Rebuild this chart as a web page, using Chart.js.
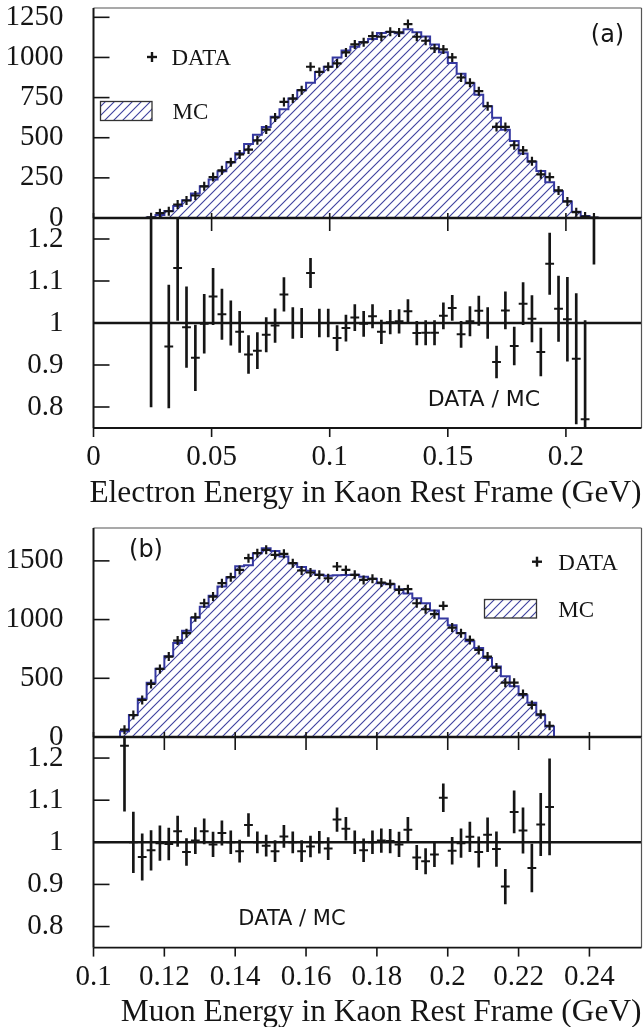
<!DOCTYPE html>
<html>
<head>
<meta charset="utf-8">
<script src="https://cdn.jsdelivr.net/npm/chart.js@4.4.1/dist/chart.umd.min.js"></script>
<style>
  body { margin: 0; background: #fff; width: 643px; height: 1027px; position: relative; overflow: hidden; }
  canvas { position: absolute; left: 0; }
</style>
</head>
<body>
<canvas id="histA" width="643" height="240" style="top:0px"></canvas>
<canvas id="ratioA" width="643" height="300" style="top:210px"></canvas>
<canvas id="histB" width="643" height="260" style="top:500px"></canvas>
<canvas id="ratioB" width="643" height="298" style="top:729px"></canvas>
<script>
// ---- panel (a): electron energy ----
const binStartA = 0.0225, binWidthA = 0.00375;
const dataA = [4, 30, 42, 84, 109, 140, 197, 255, 297, 348, 396, 426, 484, 551, 626, 723, 744, 796, 942, 910,
  942, 963, 1031, 1081, 1094, 1133, 1129, 1160, 1156, 1208, 1129, 1104, 1056, 1050, 1000, 875, 842, 790, 696, 567,
  567, 453, 421, 353, 272, 255, 172, 103, 36, 9, 3];
const mcA = [3, 18, 44, 74, 110, 153, 197, 240, 291, 348, 404, 461, 518, 567, 630, 677, 744, 796, 842, 910,
  942, 999, 1043, 1067, 1096, 1115, 1153, 1158, 1151, 1175, 1157, 1130, 1081, 1032, 965, 899, 839, 768, 696, 625,
  550, 479, 402, 350, 292, 223, 166, 102, 39, 12, 2];
const ratioA = [1.5, null, 0.944, 1.131, 0.99, 0.917, 0.998, 1.063, 1.021, 1.0, 0.979, 0.925, 0.934, 0.972, 0.994, 1.068, 1.0, 1.0, 1.119, 1.0,
  1.0, 0.964, 0.988, 1.013, 0.998, 1.016, 0.979, 1.002, 1.004, 1.028, 0.976, 0.977, 0.977, 1.017, 1.036, 0.973, 1.004, 1.029, 1.0, 0.907,
  1.03, 0.945, 1.046, 1.01, 0.931, 1.141, 1.034, 1.009, 0.915, 0.771, 1.5];
const ratioErrA = [0.7, null, 0.146, 0.125, 0.096, 0.078, 0.07, 0.067, 0.06, 0.053, 0.049, 0.045, 0.043, 0.041, 0.04, 0.04, 0.037, 0.035, 0.035, 0.033,
  0.033, 0.03, 0.031, 0.031, 0.03, 0.028, 0.028, 0.028, 0.028, 0.028, 0.028, 0.029, 0.029, 0.031, 0.03, 0.031, 0.035, 0.035, 0.037, 0.038,
  0.044, 0.045, 0.05, 0.055, 0.057, 0.073, 0.078, 0.1, 0.155, 0.235, 0.36];
const xRangeA = [0, 0.232];
const xTicksA = [0, 0.05, 0.1, 0.15, 0.2];
const yMaxHistA = 1308;
const yTicksHistA = [0, 250, 500, 750, 1000, 1250];

// ---- panel (b): muon energy ----
const binStartB = 0.1075, binWidthB = 0.0025;
const dataB = [62, 187, 315, 452, 580, 685, 821, 884, 1020, 1139, 1196, 1310, 1361, 1423, 1523, 1566, 1594, 1551, 1560, 1480,
  1418, 1401, 1381, 1352, 1452, 1423, 1381, 1338, 1347, 1315, 1304, 1253, 1259, 1139, 1088, 1046, 1117, 932, 884, 827,
  742, 685, 591, 463, 463, 366, 273, 193, 96];
const mcB = [50, 187, 326, 461, 581, 688, 800, 905, 1016, 1110, 1202, 1282, 1361, 1454, 1463, 1566, 1607, 1584, 1538, 1480,
  1448, 1415, 1381, 1373, 1378, 1379, 1381, 1364, 1347, 1310, 1300, 1259, 1222, 1182, 1139, 1077, 1010, 951, 886, 816,
  759, 673, 601, 517, 432, 356, 291, 185, 89];
const ratioB = [1.229, 1.0, 0.965, 0.981, 0.998, 0.996, 1.026, 0.977, 1.004, 1.026, 0.995, 1.022, 1.0, 0.979, 1.041, 1.0, 0.992, 0.979, 1.014, 1.0,
  0.979, 0.99, 1.0, 0.985, 1.054, 1.032, 1.0, 0.981, 1.0, 1.004, 1.003, 0.995, 1.03, 0.964, 0.955, 0.971, 1.106, 0.98, 0.998, 1.013,
  0.977, 1.018, 0.984, 0.895, 1.072, 1.028, 0.939, 1.042, 1.084];
const ratioErrB = [0.155, 0.072, 0.055, 0.047, 0.041, 0.038, 0.036, 0.032, 0.031, 0.03, 0.029, 0.029, 0.027, 0.026, 0.027, 0.025, 0.025, 0.025, 0.026, 0.025,
  0.025, 0.025, 0.026, 0.026, 0.028, 0.027, 0.027, 0.027, 0.027, 0.028, 0.028, 0.029, 0.029, 0.029, 0.03, 0.029, 0.033, 0.032, 0.034, 0.035,
  0.036, 0.04, 0.041, 0.041, 0.05, 0.054, 0.057, 0.074, 0.114];
const xRangeB = [0.1, 0.2547];
const xTicksB = [0.1, 0.12, 0.14, 0.16, 0.18, 0.2, 0.22, 0.24];
const yMaxHistB = 1780;
const yTicksHistB = [0, 500, 1000, 1500];

const ratioRange = [0.75, 1.25];
const yTicksRatio = [0.8, 0.9, 1, 1.1, 1.2];

const INK = '#151515';
const HATCH = '#3b3e9c';
const SERIF = 'Liberation Serif';
const SANS = 'DejaVu Sans';

function binEdges(start, width, n) {
  return Array.from({ length: n + 1 }, (_, i) => start + i * width);
}
function binCenters(edges) {
  return edges.slice(0, -1).map((e, i) => (e + edges[i + 1]) / 2);
}
function stepPoints(edges, vals) {
  const pts = [{ x: edges[0], y: 0 }];
  vals.forEach((v, i) => pts.push({ x: edges[i], y: v }));
  pts.push({ x: edges[vals.length], y: 0 });
  return pts;
}
function hatchPattern(ctx) {
  const c = document.createElement('canvas');
  c.width = 9; c.height = 9;
  const g = c.getContext('2d');
  g.strokeStyle = HATCH;
  g.lineWidth = 1.1;
  [[-1, 10, 10, -1], [8, 10, 10, 8], [-1, 1, 1, -1]].forEach(([a, b, p, q]) => {
    g.beginPath(); g.moveTo(a, b); g.lineTo(p, q); g.stroke();
  });
  return ctx.createPattern(c, 'repeat');
}

// frame, inward ticks, legend and labels
const framePlugin = {
  id: 'frame',
  afterDraw(chart, args, o) {
    const { ctx, chartArea: a, scales: { x, y } } = chart;
    const line = (x1, y1, x2, y2) => { ctx.beginPath(); ctx.moveTo(x1, y1); ctx.lineTo(x2, y2); ctx.stroke(); };
    ctx.save();
    ctx.strokeStyle = INK;
    ctx.lineWidth = 1.6;
    o.yTicks.forEach(v => {
      const py = y.getPixelForValue(v);
      if (py > a.top + 1 && py < a.bottom - 1) line(a.left, py, a.left + 16, py);
    });
    o.xTicks.forEach(v => {
      const px = x.getPixelForValue(v);
      if (o.tickTop && px > a.left + 1) line(px, a.top, px, a.top + o.tickTop);
      if (o.tickBottom) line(px, a.bottom, px, a.bottom + o.tickBottom);
    });
    // thin grey top / right
    ctx.strokeStyle = '#555';
    ctx.lineWidth = 1.2;
    if (o.topLine) line(a.left, a.top, a.right, a.top);
    line(a.right, a.top, a.right, a.bottom);
    // black left / bottom
    ctx.strokeStyle = INK;
    ctx.lineWidth = 2;
    line(a.left, a.top, a.left, a.bottom);
    ctx.lineWidth = o.bottomWidth;
    line(a.left, a.bottom, a.right, a.bottom);

    (o.crosses || []).forEach(c => {
      ctx.lineWidth = 2.4;
      line(c.x - 5, c.y, c.x + 5, c.y);
      line(c.x, c.y - 5, c.x, c.y + 5);
    });
    (o.boxes || []).forEach(b => {
      ctx.fillStyle = hatchPattern(ctx);
      ctx.fillRect(b.x, b.y, b.w, b.h);
      ctx.strokeStyle = '#333';
      ctx.lineWidth = 1.3;
      ctx.strokeRect(b.x, b.y, b.w, b.h);
    });
    ctx.fillStyle = INK;
    (o.texts || []).forEach(t => {
      ctx.font = t.font;
      ctx.textAlign = t.align || 'left';
      ctx.textBaseline = t.baseline || 'alphabetic';
      ctx.fillText(t.text, t.x, t.y);
    });
    ctx.restore();
  }
};
Chart.register(framePlugin);

function axes(o) {
  return {
    x: {
      type: 'linear', min: o.xRange[0], max: o.xRange[1], offset: false, display: o.showX,
      grid: { display: false, drawTicks: false }, border: { display: false },
      afterBuildTicks: s => { s.ticks = o.xTicks.map(v => ({ value: v })); },
      afterFit: s => { s.height = o.xHeight || 0; },
      ticks: { autoSkip: false, maxRotation: 0, padding: 12, color: INK,
        font: { family: SERIF, size: 29 }, callback: v => String(v) }
    },
    y: {
      type: 'linear', min: o.yRange[0], max: o.yRange[1],
      // tick marks are not drawn (grid hidden); tickLength only sets the label gap
      grid: { display: false, drawTicks: true, tickLength: 30 }, border: { display: false },
      afterBuildTicks: s => { s.ticks = o.yTicks.map(v => ({ value: v })); },
      afterFit: s => { s.width = 93.5; },
      ticks: { padding: 0, color: INK, font: { family: SERIF, size: 29, lineHeight: 0.4 }, callback: v => String(v) }
    }
  };
}

function histChart(id, o) {
  const ctx = document.getElementById(id).getContext('2d');
  const edges = binEdges(o.binStart, o.binWidth, o.mc.length);
  const centers = binCenters(edges);
  return new Chart(ctx, {
    type: 'line',
    data: {
      datasets: [
        {
          data: o.data.map((v, i) => ({ x: centers[i], y: v })),
          showLine: false, pointStyle: 'cross', pointRadius: 4.5,
          pointBorderWidth: 2.2, pointBorderColor: INK, order: 0
        },
        {
          data: stepPoints(edges, o.mc), stepped: 'before',
          borderColor: '#3538a0', borderWidth: 2, pointRadius: 0,
          fill: 'origin', backgroundColor: hatchPattern(ctx), order: 1
        }
      ]
    },
    options: {
      responsive: false, animation: false, devicePixelRatio: 1,
      layout: { autoPadding: false, padding: { left: 0, right: 1.5, top: o.padTop, bottom: o.padBottom } },
      plugins: { legend: { display: false }, tooltip: { enabled: false }, frame: o.frame },
      scales: axes({ xRange: o.xRange, xTicks: o.xTicks, showX: false, yRange: [0, o.yMax], yTicks: o.yTicks })
    }
  });
}

function ratioChart(id, o) {
  const ctx = document.getElementById(id).getContext('2d');
  const centers = binCenters(binEdges(o.binStart, o.binWidth, o.ratio.length));
  const bars = [], marks = [];
  o.ratio.forEach((v, i) => {
    if (v === null) return;
    bars.push({ x: centers[i], y: [v - o.err[i], v + o.err[i]] });
    marks.push({ x: centers[i], y: v });
  });
  return new Chart(ctx, {
    type: 'bar',
    data: {
      datasets: [
        { type: 'line', data: marks, showLine: false, pointStyle: 'line', pointRadius: 4.4,
          pointBorderWidth: 2, pointBorderColor: INK, order: 0 },
        { type: 'bar', data: bars, barThickness: 2, backgroundColor: INK, borderWidth: 0, order: 1 },
        { type: 'line', data: [{ x: o.xRange[0], y: 1 }, { x: o.xRange[1], y: 1 }],
          borderColor: INK, borderWidth: 2.6, pointRadius: 0, order: 2 }
      ]
    },
    options: {
      responsive: false, animation: false, devicePixelRatio: 1,
      layout: { autoPadding: false, padding: { left: 0, right: 1.5, top: o.padTop, bottom: 0 } },
      plugins: { legend: { display: false }, tooltip: { enabled: false }, frame: o.frame },
      scales: axes({ xRange: o.xRange, xTicks: o.xTicks, showX: true, xHeight: o.xHeight,
        yRange: ratioRange, yTicks: yTicksRatio })
    }
  });
}

histChart('histA', {
  binStart: binStartA, binWidth: binWidthA, data: dataA, mc: mcA,
  xRange: xRangeA, xTicks: xTicksA, yMax: yMaxHistA, yTicks: yTicksHistA,
  padTop: 8, padBottom: 22,
  frame: {
    xTicks: xTicksA, yTicks: yTicksHistA, tickBottom: -5, topLine: true, bottomWidth: 2.6,
    crosses: [{ x: 152, y: 57 }],
    boxes: [{ x: 100.5, y: 101.5, w: 51.5, h: 19 }],
    texts: [
      { text: 'DATA', x: 171.5, y: 65, font: '23px ' + SERIF },
      { text: 'MC', x: 172.5, y: 119.3, font: '23px ' + SERIF },
      { text: '(a)', x: 607.5, y: 36, font: '24px ' + SANS, align: 'center', baseline: 'middle' }
    ]
  }
});

ratioChart('ratioA', {
  binStart: binStartA, binWidth: binWidthA, ratio: ratioA, err: ratioErrA,
  xRange: xRangeA, xTicks: xTicksA, padTop: 8, xHeight: 82,
  frame: {
    xTicks: xTicksA, yTicks: yTicksRatio, tickTop: 13, tickBottom: 9, topLine: false, bottomWidth: 1.8,
    texts: [
      { text: 'DATA / MC', x: 484, y: 190, font: '22px ' + SANS, align: 'center', baseline: 'middle' },
      { text: 'Electron Energy in Kaon Rest Frame (GeV)', x: 641.5, y: 291.7, font: '31.4px ' + SERIF, align: 'right' }
    ]
  }
});

histChart('histB', {
  binStart: binStartB, binWidth: binWidthB, data: dataB, mc: mcB,
  xRange: xRangeB, xTicks: xTicksB, yMax: yMaxHistB, yTicks: yTicksHistB,
  padTop: 28, padBottom: 23,
  frame: {
    xTicks: xTicksB, yTicks: yTicksHistB, tickBottom: -5, topLine: true, bottomWidth: 2.6,
    crosses: [{ x: 537, y: 61.7 }],
    boxes: [{ x: 484.5, y: 99.5, w: 52, h: 18.5 }],
    texts: [
      { text: 'DATA', x: 558.3, y: 70, font: '23px ' + SERIF },
      { text: 'MC', x: 558.3, y: 116.7, font: '23px ' + SERIF },
      { text: '(b)', x: 146, y: 51, font: '24px ' + SANS, align: 'center', baseline: 'middle' }
    ]
  }
});

ratioChart('ratioB', {
  binStart: binStartB, binWidth: binWidthB, ratio: ratioB, err: ratioErrB,
  xRange: xRangeB, xTicks: xTicksB, padTop: 8, xHeight: 79.4,
  frame: {
    xTicks: xTicksB, yTicks: yTicksRatio, tickTop: 13, tickBottom: 9, topLine: false, bottomWidth: 1.8,
    texts: [
      { text: 'DATA / MC', x: 292, y: 191, font: '21px ' + SANS, align: 'center', baseline: 'middle' },
      { text: 'Muon Energy in Kaon Rest Frame (GeV)', x: 641.5, y: 292.3, font: '31.4px ' + SERIF, align: 'right' }
    ]
  }
});
</script>
</body>
</html>
